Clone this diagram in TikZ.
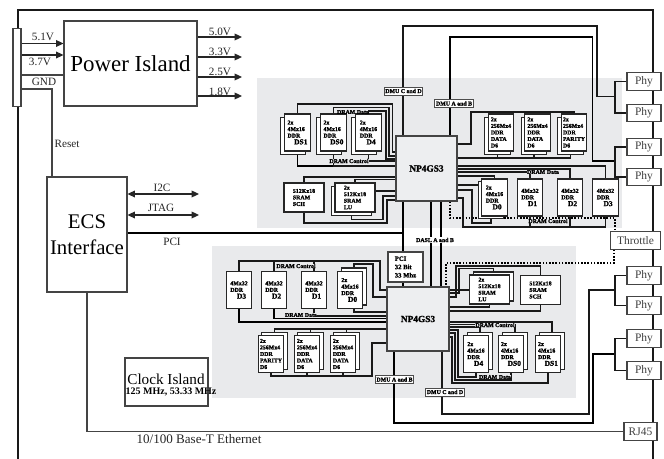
\documentclass[tikz,border=0pt]{standalone}
\usepackage{fontspec}
\setmainfont{Liberation Serif}
\newfontfamily\blobfont[FakeBold=1.6]{Liberation Serif Bold}
\usetikzlibrary{arrows.meta}
\pgfdeclarelayer{panel}\pgfdeclarelayer{conn}
\pgfsetlayers{panel,conn,main}
\definecolor{panelgray}{HTML}{E9EAEC}
\definecolor{edgegray}{HTML}{444444}
\definecolor{npgray}{HTML}{EDEEF0}
\newcommand{\cht}[2]{#1\\[0.2pt]\hspace*{5pt}{\fontsize{5.6}{5.6}\selectfont #2}}
\tikzset{
  x=0.75pt,y=-0.75pt,
  lbl/.style={font=\fontsize{8.4}{9}\selectfont,inner sep=0pt,text=black!85},
  bigbox/.style={draw=edgegray,line width=0.8pt,fill=white,inner sep=0pt},
  phybox/.style={draw=edgegray,line width=0.8pt,fill=white,inner sep=0pt,minimum width=25.5pt,minimum height=13pt,font=\fontsize{8.6}{9}\selectfont,text=black!75},
  chipbase/.style={draw=black!85,line width=1.05pt,fill=white,inner sep=0pt,align=left,font=\blobfont\fontsize{4.4}{4.9}\selectfont},
  ddr/.style={chipbase,minimum width=19.1pt,minimum height=27.75pt},
  sram/.style={chipbase,minimum width=30pt,minimum height=21.75pt},
  np/.style={draw=edgegray,line width=0.8pt,fill=npgray,inner sep=0pt,font=\blobfont\fontsize{7}{8}\selectfont},
  dmu/.style={draw=black!70,line width=0.6pt,fill=white,inner sep=0pt,minimum width=29pt,minimum height=6pt,font=\blobfont\fontsize{4.4}{5}\selectfont},
  tag/.style={inner sep=0pt,font=\blobfont\fontsize{4.4}{5}\selectfont},
  wire/.style={line width=0.85pt,black!90},
  bus/.style={line width=1.2pt,black},
  grayw/.style={line width=0.8pt,edgegray},
  frame/.style={line width=2pt,black!90},
  arr/.style={line width=0.9pt,black!85,-{Triangle[length=5.5pt,width=5pt]}},
  arrb/.style={line width=0.9pt,black!85,{Triangle[length=5.5pt,width=5pt]}-{Triangle[length=5.5pt,width=5pt]}},
  dots/.style={line width=1.3pt,black,dash pattern=on 1.2pt off 1.2pt},
}
\begin{document}
\begin{tikzpicture}
\useasboundingbox (0,0) rectangle (664,459);
\begin{pgfonlayer}{panel}
  \fill[white] (0,0) rectangle (664,459);
  \fill[panelgray] (257,78) rectangle (622,228);
  \fill[panelgray] (212,246) rectangle (576,398);
  \draw[frame] (18,459) -- (18,10) -- (653,10) -- (653,459);
\end{pgfonlayer}

% left side
\node[bigbox,minimum width=6pt,minimum height=58pt] (conn) at (17,67.5) {};
\node[bigbox,minimum width=99.75pt,minimum height=63.75pt,font=\fontsize{17.2}{20}\selectfont] (pwr) at (130.5,63.5) {Power Island};
\node[bigbox,minimum width=60pt,minimum height=86.25pt,align=center,font=\fontsize{15.6}{19.5}\selectfont] (ecs) at (87,234.5) {ECS\\Interface};
\node[bigbox,minimum width=62.25pt,minimum height=36pt] (clk) at (166.5,382) {};
\node[inner sep=0pt,font=\fontsize{11.4}{12}\selectfont] (clkt) at (166,379) {Clock Island};
\node[inner sep=0pt,font=\fontsize{7.5}{8}\bfseries\selectfont] (clkf) at (171,392) {125 MHz, 53.33 MHz};
\node[lbl] (l51) at (43,37) {5.1V};
\node[lbl] (l37) at (40,62) {3.7V};
\node[lbl] (lgnd) at (44,82) {GND};
\node[lbl] (lrst) at (67,144) {Reset};
\node[lbl] (l50) at (220,32) {5.0V};
\node[lbl] (l33) at (220,52) {3.3V};
\node[lbl] (l25) at (220,72) {2.5V};
\node[lbl] (l18) at (220,92) {1.8V};
\node[lbl] (li2c) at (162,188) {I2C};
\node[lbl] (ljtag) at (161,208) {JTAG};
\node[lbl] (lpci) at (172,242) {PCI};
\node[inner sep=0pt,font=\fontsize{9.8}{11}\selectfont,text=black!85] (leth) at (199,439) {10/100 Base-T Ethernet};
\coordinate (o50) at (242,37);
\coordinate (o33) at (242,57);
\coordinate (o25) at (242,77);
\coordinate (o18) at (242,96);
\coordinate (oi2c) at (199,194);
\coordinate (ojtag) at (199,215);

% network processors and PCI
\node[np,minimum width=45.75pt,minimum height=48.75pt] (np1) at (426.5,168.5) {NP4GS3};
\node[np,minimum width=46.5pt,minimum height=48pt] (np2) at (418,319) {NP4GS3};
\node[chipbase,draw=edgegray,line width=0.8pt,minimum width=26.25pt,minimum height=22.5pt,font=\blobfont\fontsize{5}{6.2}\selectfont] (pci) at (405.5,267) {PCI\\32 Bit\\33 Mhz};

% phys
\node[phybox] (phy1) at (644,81.5) {Phy};
\node[phybox] (phy2) at (644,113) {Phy};
\node[phybox] (phy3) at (644,147) {Phy};
\node[phybox] (phy4) at (644,177) {Phy};
\node[phybox] (phy5) at (644,275.5) {Phy};
\node[phybox] (phy6) at (644,305.5) {Phy};
\node[phybox] (phy7) at (644,338.5) {Phy};
\node[phybox] (phy8) at (644,370.5) {Phy};
\node[phybox,minimum width=38pt] (thr) at (635.5,240.5) {Throttle};
\node[phybox,minimum width=24.75pt] (rj) at (640.5,431.5) {RJ45};
\coordinate (b12) at (615,96.5);
\coordinate (b34) at (615,161);
\coordinate (b56) at (615,290);
\coordinate (b78) at (615,354);

% top-left DDR
\node[ddr] (ds1tb) at (293,136) {};
\node[ddr] (ds1t) at (297.5,132.5) {\cht{2x\\4Mx16\\DDR}{DS1}};
\node[ddr] (ds0tb) at (329,136) {};
\node[ddr] (ds0t) at (333.5,132.5) {\cht{2x\\4Mx16\\DDR}{DS0}};
\node[ddr] (d4tb) at (364,136) {};
\node[ddr] (d4t) at (368.5,132.5) {\cht{2x\\4Mx16\\DDR}{D4}};
% top-left SRAM
\node[sram] (scht) at (304,197.5) {512Kx18\\SRAM\\SCH};
\node[sram] (lutb) at (351.5,201) {};
\node[sram] (lut) at (355,197.5) {2x\\512Kx18\\SRAM\\LU};
% top-right D6
\node[ddr] (d6atb) at (497.5,136) {};
\node[ddr] (d6at) at (501,132.5) {2x\\256Mx4\\DDR\\DATA\\D6};
\node[ddr] (d6btb) at (534,136) {};
\node[ddr] (d6bt) at (537.5,132.5) {2x\\256Mx4\\DDR\\DATA\\D6};
\node[ddr] (d6ctb) at (570.5,136) {};
\node[ddr] (d6ct) at (574,132.5) {2x\\256Mx4\\DDR\\PARITY\\D6};
% top-right D0-D3
\node[ddr] (d0tb) at (491,200) {};
\node[ddr] (d0t) at (494.5,197.5) {\cht{2x\\4Mx16\\DDR}{D0}};
\node[ddr] (d1t) at (530,197.5) {\cht{4Mx32\\DDR}{D1}};
\node[ddr] (d2t) at (570,197.5) {\cht{4Mx32\\DDR}{D2}};
\node[ddr] (d3t) at (605.5,197.5) {\cht{4Mx32\\DDR}{D3}};
% bottom-left D3-D0
\node[ddr] (d3b) at (239,290) {\cht{4Mx32\\DDR}{D3}};
\node[ddr] (d2b) at (274,290) {\cht{4Mx32\\DDR}{D2}};
\node[ddr] (d1b) at (314,290) {\cht{4Mx32\\DDR}{D1}};
\node[ddr] (d0bb) at (354,286.5) {};
\node[ddr] (d0b) at (350,290) {\cht{2x\\4Mx16\\DDR}{D0}};
% bottom-left D6
\node[ddr] (d6cbb) at (274.5,351) {};
\node[ddr] (d6cb) at (271,354) {2x\\256Mx4\\DDR\\PARITY\\D6};
\node[ddr] (d6bbb) at (310.5,351) {};
\node[ddr] (d6bb) at (307,354) {2x\\256Mx4\\DDR\\DATA\\D6};
\node[ddr] (d6abb) at (346.5,351) {};
\node[ddr] (d6ab) at (343,354) {2x\\256Mx4\\DDR\\DATA\\D6};
% bottom-right SRAM
\node[sram] (lubb) at (493.5,286.5) {};
\node[sram] (lub) at (489.5,289.5) {2x\\512Kx18\\SRAM\\LU};
\node[sram] (schb) at (540.5,290) {512Kx18\\SRAM\\SCH};
% bottom-right DS
\node[ddr] (d4bb) at (480,351) {};
\node[ddr] (d4b) at (476,354) {\cht{2x\\4Mx16\\DDR}{D4}};
\node[ddr] (ds0bb) at (515,351) {};
\node[ddr] (ds0b) at (511,354) {\cht{2x\\4Mx16\\DDR}{DS0}};
\node[ddr] (ds1bb) at (552,351) {};
\node[ddr] (ds1b) at (548,354) {\cht{2x\\4Mx16\\DDR}{DS1}};

% labels
\node[dmu] (dmucdt) at (403.5,91) {DMU C and D};
\node[dmu] (dmuabt) at (454,103.5) {DMU A and B};
\node[dmu] (dmuabb) at (394.5,379.5) {DMU A and B};
\node[dmu] (dmucdb) at (445,392) {DMU C and D};
\node[tag,fill=white,inner sep=0.5pt] (dasl) at (435,240) {DASL A and B};
\node[tag] (tdatatl) at (353,112) {DRAM Data};
\node[tag,fill=panelgray] (tctrltl) at (349,161) {DRAM Control};
\node[tag,fill=panelgray] (tdatatr) at (543,172) {DRAM Data};
\node[tag,fill=panelgray] (tctrltr) at (548,221) {DRAM Control};
\node[tag,fill=panelgray] (tctrlbl) at (296,266) {DRAM Control};
\node[tag,fill=panelgray] (tdatabl) at (301,315) {DRAM Data};
\node[tag,fill=panelgray] (tctrlbr) at (495,325) {DRAM Control};
\node[tag,fill=panelgray] (tdatabr) at (495,377) {DRAM Data};

\begin{pgfonlayer}{conn}
  % power and control
  \draw[arr] (conn.east |- 0,43.5) -- (pwr.west |- 0,43.5);
  \draw[arr] (conn.east |- 0,55) -- (pwr.west |- 0,55);
  \draw[grayw] (conn.east |- 0,75) -- (pwr.west |- 0,75);
  \draw[grayw] (conn.east |- 0,89) -| (52,0 |- ecs.north);
  \draw[arr] (pwr.east |- o50) -- (o50);
  \draw[arr] (pwr.east |- o33) -- (o33);
  \draw[arr] (pwr.east |- o25) -- (o25);
  \draw[arr] (pwr.east |- o18) -- (o18);
  \draw[arrb] (ecs.east |- oi2c) -- (oi2c);
  \draw[arrb] (ecs.east |- ojtag) -- (ojtag);
  \draw[grayw] (ecs.south) |- (rj.west);
  % PCI
  \draw[line width=1.7pt] (ecs.east |- 0,233) -- (403,233);
  \draw[bus] (403,0 |- np1.south) -- (403,0 |- pci.north);
  \draw[bus] (403,0 |- pci.south) -- (403,0 |- np2.north);
  % DASL
  \draw[bus] (431,0 |- np1.south) -- (431,0 |- np2.north);
  \draw[bus] (441,0 |- np1.south) -- (441,0 |- np2.north);
  % DMU buses
  \draw[wire] (403,0 |- np1.north) |- (597,26) |- (b12);
  \draw[bus] (450,0 |- np1.north) |- (592.5,37) |- (b34);
  \draw[wire] (442,0 |- np2.south) |- (589,414) |- (b56);
  \draw[bus] (394,0 |- np2.south) |- (593,423) |- (b78);
  % Phy brackets
  \draw[wire] (phy1.west) -| (b12) |- (phy2.west);
  \draw[wire] (phy3.west) -| (b34) |- (phy4.west);
  \draw[wire] (phy5.west) -| (b56) |- (phy6.west);
  \draw[wire] (phy7.west) -| (b78) |- (phy8.west);
  % throttle
  \draw[dots] (450,0 |- np1.south) |- (615,218) -- (615,0 |- thr.north);
  \draw[dots] (614,0 |- thr.south) |- (446,263) -- (446,0 |- np2.north);
  % top-left DDR
  \draw[wire] (ds1t.north) |- (392.7,104) |- (np1.west |- 0,152);
  \draw[wire] (ds0t.north) |- (389,107.5) |- (np1.west |- 0,156);
  \draw[wire] (d4t.north) |- (386,111) |- (np1.west |- 0,159);
  \draw[bus] (ds1t.south) |- (np1.west |- 0,166);
  \draw[wire] (ds0t.south) |- (np1.west |- 0,166);
  \draw[wire] (d4t.south) |- (np1.west |- 0,161);
  % top-left SRAM
  \draw[wire] (scht.north) |- (np1.west |- 0,177);
  \draw[wire] (scht.south) |- (387,223) |- (np1.west |- 0,200);
  \draw[wire] (lut.north) |- (np1.west |- 0,179.5);
  \draw[wire] (lut.east |- 0,191) -- (np1.west |- 0,191);
  \draw[wire] (lutb.south) |- (383,219.5) |- (np1.west |- 0,196);
  % top-right D6
  \draw[wire] (d6at.north) |- (471,112) |- (np1.east |- 0,144);
  \draw[wire] (d6bt.north) -- (d6bt.north |- 0,112);
  \draw[wire] (d6ct.north) |- (471,112);
  \draw[wire] (d6atb.south) |- (np1.east |- 0,158);
  \draw[wire] (d6btb.south) |- (np1.east |- 0,158);
  \draw[wire] (d6ctb.south) |- (np1.east |- 0,158);
  % top-right D0-D3
  \draw[wire] (d3t.north) |- (np1.east |- 0,166);
  \draw[wire] (d2t.north) |- (np1.east |- 0,169);
  \draw[wire] (d1t.north) |- (np1.east |- 0,172);
  \draw[wire] (d0t.north) |- (np1.east |- 0,176);
  \draw[wire] (np1.east |- 0,185) -- (d0tb.west |- 0,185);
  \draw[wire] (d0tb.south) |- (472,223) |- (np1.east |- 0,190);
  \draw[wire] (d3t.south) |- (463,227) |- (np1.east |- 0,198);
  \draw[wire] (d1t.south) -- (d1t.south |- 0,227);
  \draw[wire] (d2t.south) -- (d2t.south |- 0,227);
  % bottom-left D3-D0
  \draw[wire] (d3b.north) |- (380,261) |- (np2.west |- 0,290);
  \draw[wire] (d2b.north) -- (d2b.north |- 0,261);
  \draw[wire] (d1b.north) -- (d1b.north |- 0,261);
  \draw[wire] (d0bb.north) |- (373,264) |- (np2.west |- 0,297);
  \draw[bus] (d3b.south) |- (np2.west |- 0,322);
  \draw[bus] (d2b.south) |- (np2.west |- 0,318.5);
  \draw[wire] (d1b.south) |- (np2.west |- 0,316);
  \draw[wire] (d0bb.south) |- (np2.west |- 0,312);
  % bottom-left D6
  \draw[wire] (d6cbb.north) |- (np2.west |- 0,329);
  \draw[wire] (d6bbb.north) |- (np2.west |- 0,329);
  \draw[wire] (d6abb.north) |- (np2.west |- 0,329);
  \draw[wire] (d6cb.south) |- (372,376) |- (np2.west |- 0,343);
  \draw[wire] (d6bb.south) -- (d6bb.south |- 0,376);
  \draw[wire] (d6ab.south) -- (d6ab.south |- 0,376);
  % bottom-right SRAM
  \draw[wire] (lubb.north) |- (459,268.5) |- (np2.east |- 0,293);
  \draw[wire] (schb.north) |- (456,266) |- (np2.east |- 0,297);
  \draw[wire] (np2.east |- 0,290) -- (lub.west |- 0,290);
  \draw[wire] (lub.south) |- (np2.east |- 0,307);
  \draw[wire] (schb.south) |- (np2.east |- 0,311);
  % bottom-right DS
  \draw[wire] (ds1bb.north) |- (np2.east |- 0,322);
  \draw[wire] (ds0bb.north) |- (np2.east |- 0,324.5);
  \draw[wire] (d4bb.north) |- (np2.east |- 0,327);
  \draw[wire] (d4b.south) |- (458,377) |- (np2.east |- 0,330);
  \draw[wire] (ds0b.south) |- (455,380) |- (np2.east |- 0,333);
  \draw[wire] (ds1b.south) |- (452,383) |- (np2.east |- 0,337);
\end{pgfonlayer}
\end{tikzpicture}
\end{document}
